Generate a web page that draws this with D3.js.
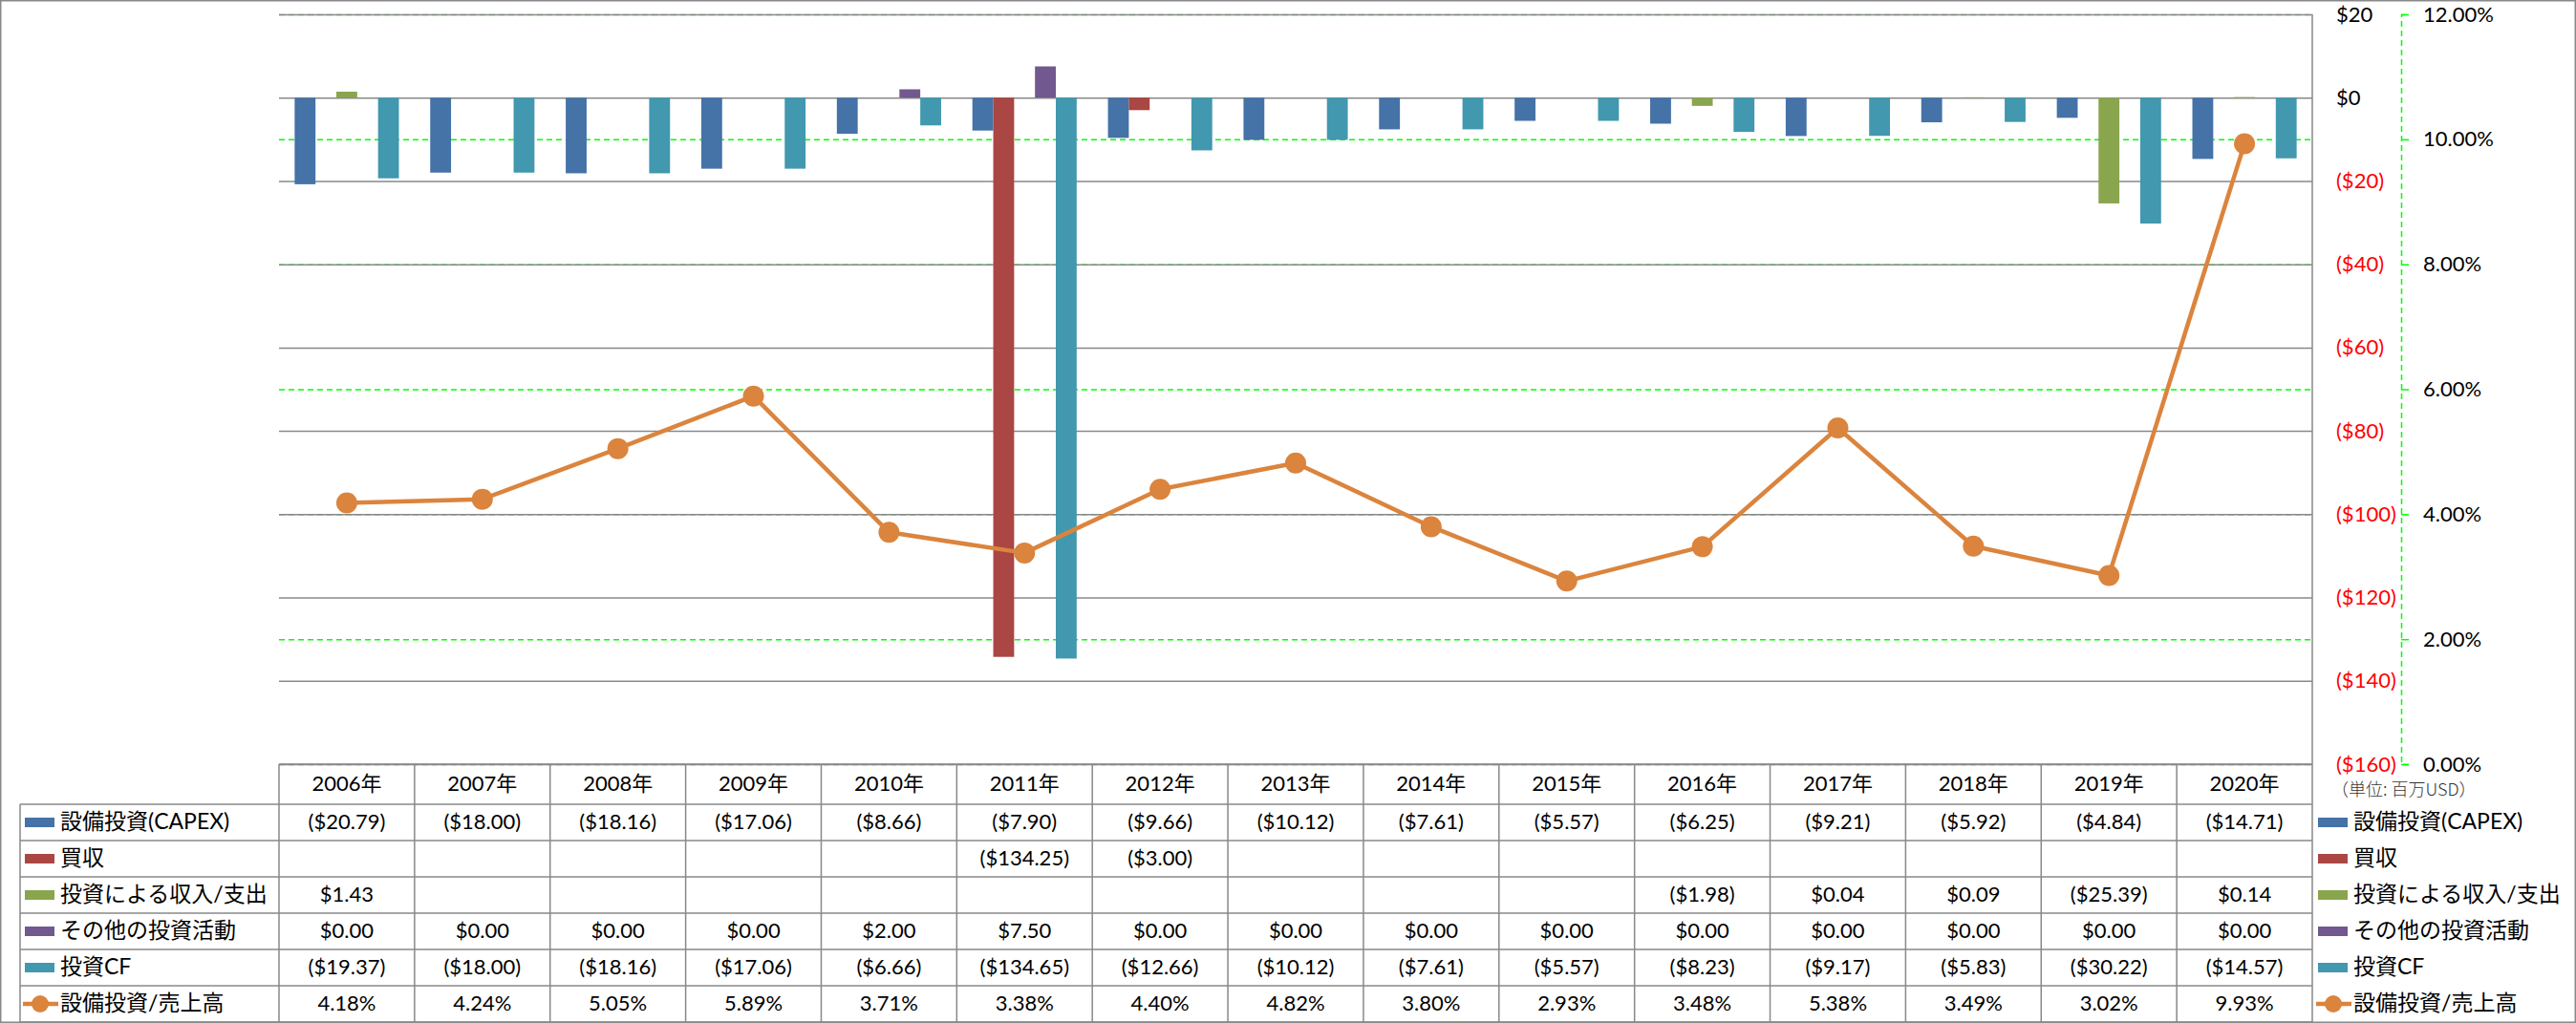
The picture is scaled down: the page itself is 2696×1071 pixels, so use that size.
<!DOCTYPE html>
<html>
<head>
<meta charset="utf-8">
<script src="https://cdn.jsdelivr.net/npm/d3@7"></script>
<style>
  body { margin: 0; background: #fff; }
  text { font-family: "Lato", "Noto Sans CJK JP", sans-serif; }
</style>
</head>
<body>
<svg id="chart"></svg>
<script>
// data (values in millions USD, ratio in %)
var years = ["2006年","2007年","2008年","2009年","2010年","2011年","2012年","2013年","2014年","2015年","2016年","2017年","2018年","2019年","2020年"];
var capex       = [-20.79,-18.00,-18.16,-17.06,-8.66,-7.90,-9.66,-10.12,-7.61,-5.57,-6.25,-9.21,-5.92,-4.84,-14.71];
var acquisition = [null,null,null,null,null,-134.25,-3.00,null,null,null,null,null,null,null,null];
var investIO    = [1.43,null,null,null,null,null,null,null,null,null,-1.98,0.04,0.09,-25.39,0.14];
var otherInvest = [0.00,0.00,0.00,0.00,2.00,7.50,0.00,0.00,0.00,0.00,0.00,0.00,0.00,0.00,0.00];
var investCF    = [-19.37,-18.00,-18.16,-17.06,-6.66,-134.65,-12.66,-10.12,-7.61,-5.57,-8.23,-9.17,-5.83,-30.22,-14.57];
var capexRatio  = [4.18,4.24,5.05,5.89,3.71,3.38,4.40,4.82,3.80,2.93,3.48,5.38,3.49,3.02,9.93];

var barNames = ["設備投資(CAPEX)","買収","投資による収入/支出","その他の投資活動","投資CF"];
var lineName = "設備投資/売上高";
var dollarTicks = [20,0,-20,-40,-60,-80,-100,-120,-140,-160];
var pctTicks = [0,2,4,6,8,10,12];
var unitLabel = "（単位: 百万USD）";

var barSeries = [capex, acquisition, investIO, otherInvest, investCF];
var barColors = ["#4572A7","#AA4643","#89A54E","#71588F","#4198AF"];
var lineColor = "#DB843D";
var gridColor = "#898989";

var W = 2696, H = 1071;
var plot = {left: 292, right: 2420, top: 15, bottom: 800};
var headerH = 42, rowH = 38;

var svg = d3.select("#chart").attr("width", W).attr("height", H);

var x = d3.scaleBand().domain(years).range([plot.left, plot.right]);
var xs = d3.scaleBand().domain(barNames).range([0, x.bandwidth()]).paddingOuter(0.75);
var y = d3.scaleLinear().domain([-160, 20]).range([plot.bottom, plot.top]);
var y2 = d3.scaleLinear().domain([0, 12]).range([plot.bottom, plot.top]);

function fmtDollar(v) {
  if (v == null) return "";
  var s = "$" + Math.abs(v).toFixed(2);
  return v < 0 ? "(" + s + ")" : s;
}
function fmtAxis(v) { return v < 0 ? "($" + Math.abs(v) + ")" : "$" + v; }

// green dashed gridlines for the percent axis
svg.append("g")
  .attr("transform", "translate(" + plot.left + ",0)")
  .call(d3.axisRight(y2).tickValues(pctTicks).tickSize(plot.right - plot.left).tickFormat(""))
  .call(function(g) {
    g.select(".domain").remove();
    g.selectAll("line").attr("stroke", "#00FF00").attr("stroke-width", 1.5).attr("stroke-dasharray", "6,4");
  });

// gray gridlines for the dollar axis
svg.append("g")
  .attr("transform", "translate(" + plot.left + ",0)")
  .call(d3.axisRight(y).tickValues(dollarTicks).tickSize(plot.right - plot.left).tickFormat(""))
  .call(function(g) {
    g.select(".domain").remove();
    g.selectAll("line").attr("stroke", gridColor).attr("stroke-width", 1.5);
  });

// plot right border
svg.append("line")
  .attr("x1", plot.right).attr("x2", plot.right)
  .attr("y1", plot.top).attr("y2", plot.bottom)
  .attr("stroke", gridColor).attr("stroke-width", 1.5);

// dollar axis labels
svg.append("g")
  .attr("transform", "translate(2445,0)")
  .call(d3.axisRight(y).tickValues(dollarTicks).tickSize(0).tickPadding(0).tickFormat(fmtAxis))
  .call(function(g) {
    g.select(".domain").remove();
    g.selectAll("text")
      .attr("font-size", 22)
      .attr("font-family", "Lato, sans-serif")
      .attr("fill", function(d) { return d < 0 ? "#FF0000" : "#000"; });
  });

// percent axis
svg.append("g")
  .attr("transform", "translate(2513,0)")
  .call(d3.axisRight(y2).tickValues(pctTicks).tickSize(8).tickPadding(15)
    .tickFormat(function(d) { return d.toFixed(2) + "%"; }))
  .call(function(g) {
    g.select(".domain").attr("stroke", "#00FF00").attr("stroke-width", 1.5).attr("stroke-dasharray", "6,4");
    g.selectAll("line").attr("stroke", "#00FF00").attr("stroke-width", 1.5);
    g.selectAll("text").attr("font-size", 22).attr("font-family", "Lato, sans-serif").attr("fill", "#000");
  });

svg.append("text")
  .attr("x", 2440).attr("y", 828)
  .attr("dominant-baseline", "middle")
  .attr("font-size", 18)
  .attr("fill", "#333")
  .style("font-family", "'Noto Sans CJK JP', sans-serif")
  .style("font-weight", 300)
  .text(unitLabel);

// bars
barSeries.forEach(function(vals, si) {
  svg.append("g").selectAll("rect")
    .data(vals.map(function(v, i) { return {year: years[i], value: v}; })
      .filter(function(d) { return d.value != null && d.value !== 0; }))
    .enter().append("rect")
      .attr("x", function(d) { return x(d.year) + xs(barNames[si]); })
      .attr("width", xs.bandwidth())
      .attr("y", function(d) { return y(Math.max(0, d.value)); })
      .attr("height", function(d) { return Math.abs(y(d.value) - y(0)); })
      .attr("fill", barColors[si]);
});

// line
var cx = function(i) { return x(years[i]) + x.bandwidth() / 2; };
svg.append("path")
  .datum(capexRatio)
  .attr("fill", "none")
  .attr("stroke", lineColor)
  .attr("stroke-width", 4.5)
  .attr("stroke-linejoin", "round")
  .attr("d", d3.line().x(function(d, i) { return cx(i); }).y(function(d) { return y2(d); }));

svg.append("g").selectAll("circle")
  .data(capexRatio)
  .enter().append("circle")
    .attr("cx", function(d, i) { return cx(i); })
    .attr("cy", function(d) { return y2(d); })
    .attr("r", 11)
    .attr("fill", lineColor);

// data table
var rowNames = barNames.concat([lineName]);
var rowData = barSeries.concat([capexRatio]);
var tbl = svg.append("g");
var rowTop = function(r) { return plot.bottom + headerH + r * rowH; };
var tableBottom = rowTop(rowNames.length);

tbl.append("line")
  .attr("x1", plot.left).attr("x2", plot.right)
  .attr("y1", plot.bottom).attr("y2", plot.bottom)
  .attr("stroke", gridColor).attr("stroke-width", 1.5);
d3.range(rowNames.length + 1).forEach(function(r) {
  tbl.append("line")
    .attr("x1", 21).attr("x2", plot.right)
    .attr("y1", rowTop(r)).attr("y2", rowTop(r))
    .attr("stroke", gridColor).attr("stroke-width", 1.5);
});
tbl.append("line")
  .attr("x1", 21).attr("x2", 21)
  .attr("y1", rowTop(0)).attr("y2", tableBottom)
  .attr("stroke", gridColor).attr("stroke-width", 1.5);
years.concat(["end"]).forEach(function(yr, i) {
  var xx = plot.left + i * x.step();
  tbl.append("line")
    .attr("x1", xx).attr("x2", xx)
    .attr("y1", plot.bottom).attr("y2", tableBottom)
    .attr("stroke", gridColor).attr("stroke-width", 1.5);
});

tbl.selectAll(".yr")
  .data(years)
  .enter().append("text")
    .attr("x", function(d) { return x(d) + x.bandwidth() / 2; })
    .attr("y", plot.bottom + headerH / 2 + 1)
    .attr("text-anchor", "middle")
    .attr("dominant-baseline", "middle")
    .attr("font-size", 22)
    .text(function(d) { return d; });

rowData.forEach(function(vals, r) {
  tbl.append("g").selectAll("text")
    .data(vals)
    .enter().append("text")
      .attr("x", function(d, i) { return cx(i); })
      .attr("y", rowTop(r) + rowH / 2 + 1)
      .attr("text-anchor", "middle")
      .attr("dominant-baseline", "middle")
      .attr("font-size", 22)
      .text(function(d) {
        if (r === rowData.length - 1) return d.toFixed(2) + "%";
        return fmtDollar(d);
      });
});

// legend keys, left (inside table) and right
[{kx: 26, tx: 63}, {kx: 2426, tx: 2463}].forEach(function(side) {
  rowNames.forEach(function(name, r) {
    var cy = rowTop(r) + rowH / 2;
    if (r < barNames.length) {
      svg.append("rect")
        .attr("x", side.kx).attr("y", cy - 5)
        .attr("width", 31).attr("height", 10)
        .attr("fill", barColors[r]);
    } else {
      svg.append("line")
        .attr("x1", side.kx - 2).attr("x2", side.kx + 35)
        .attr("y1", cy).attr("y2", cy)
        .attr("stroke", lineColor).attr("stroke-width", 4.5);
      svg.append("circle")
        .attr("cx", side.kx + 16).attr("cy", cy).attr("r", 9)
        .attr("fill", lineColor);
    }
    svg.append("text")
      .attr("x", side.tx).attr("y", cy + 1)
      .attr("dominant-baseline", "middle")
      .attr("font-size", 23)
      .text(name);
  });
});

// outer border
svg.append("rect")
  .attr("x", 0.75).attr("y", 0.75)
  .attr("width", W - 1.5).attr("height", H - 1.5)
  .attr("fill", "none")
  .attr("stroke", gridColor).attr("stroke-width", 1.5);
</script>
</body>
</html>
